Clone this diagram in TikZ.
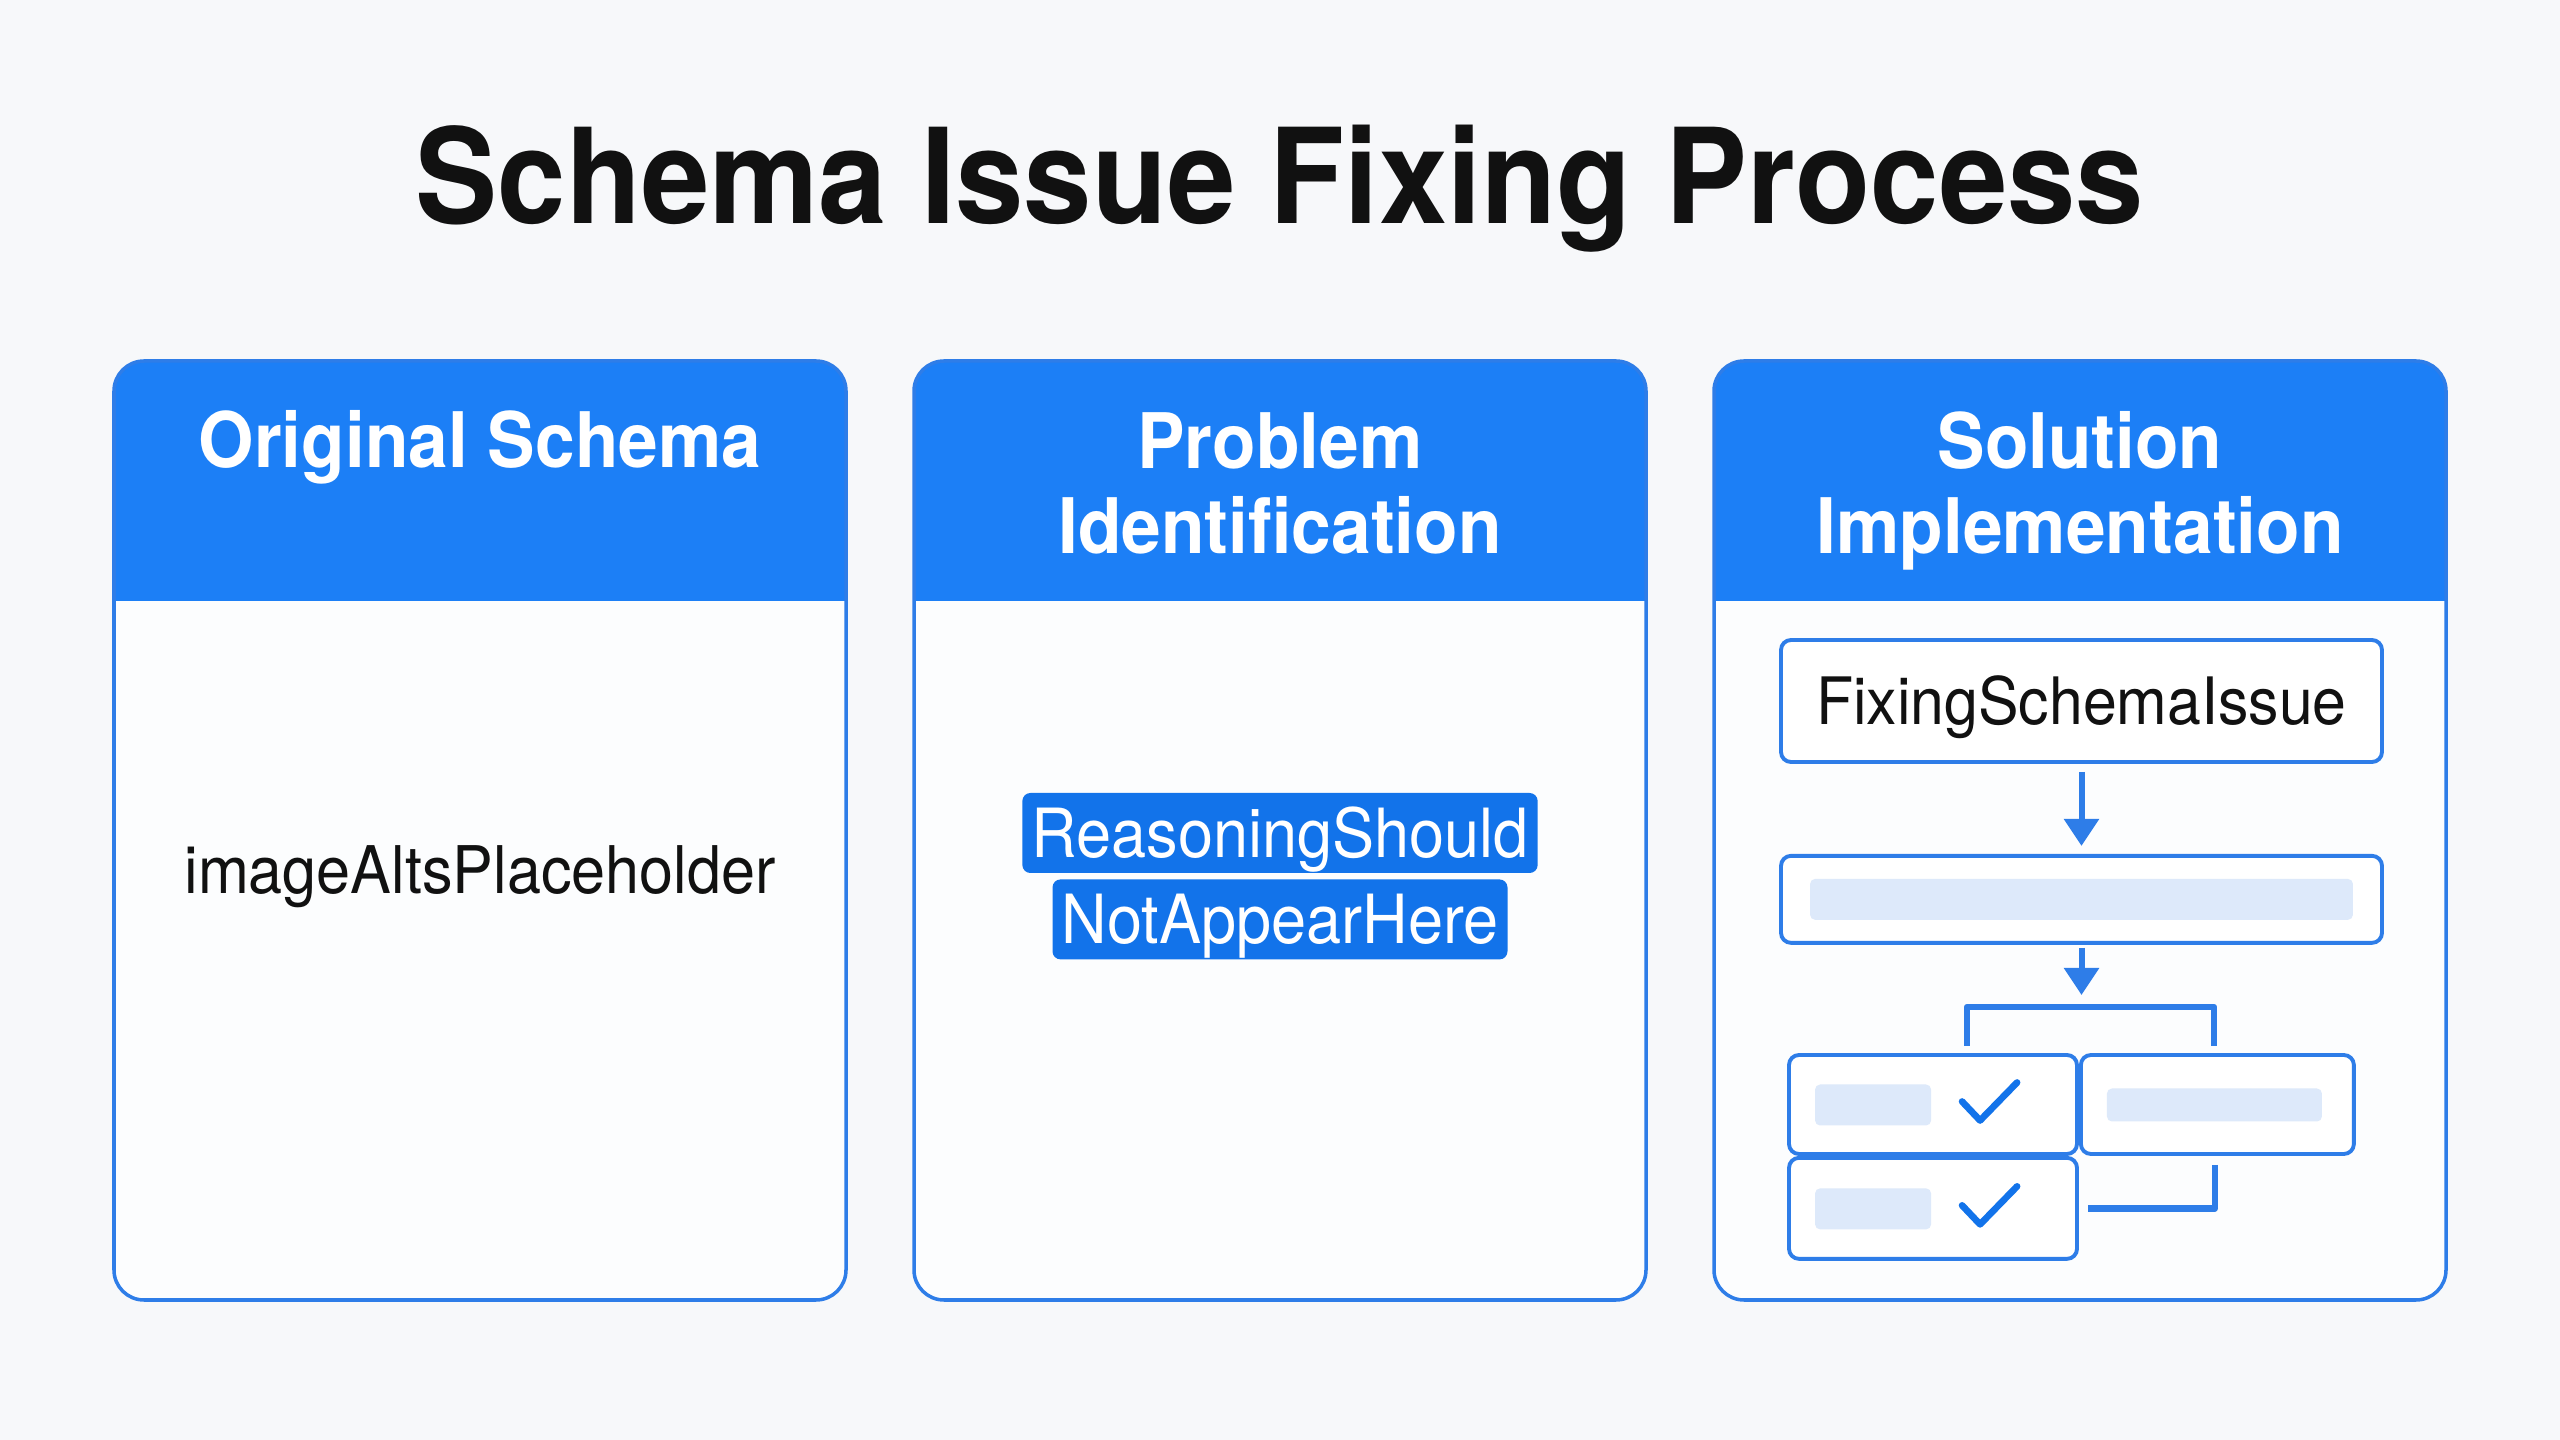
\documentclass[tikz,border=0pt]{standalone}
\usepackage{fontspec}
\setmainfont{TeX Gyre Heros}[FakeStretch=0.93]
\usetikzlibrary{arrows.meta,positioning}
\definecolor{Head}{HTML}{1C7FF6}
\definecolor{Edge}{HTML}{2E7DE8}
\definecolor{Mark}{HTML}{1273EA}
\definecolor{Bar}{HTML}{DDE9FA}
\definecolor{Paper}{HTML}{F7F8FA}
\definecolor{Card}{HTML}{FCFDFE}
\definecolor{Ink}{HTML}{111111}
\tikzset{
  card/.style={draw=Edge,line width=1pt,rounded corners=3mm},
  stepbox/.style={draw=Edge,line width=1.1pt,rounded corners=1mm,fill=white,inner sep=0pt},
  bar/.style={fill=Bar,rounded corners=0.5mm},
  flow/.style={Edge,line width=1.7pt,-{Triangle[length=2.7mm,width=3.4mm]}},
  link/.style={Edge,line width=1.8pt,line join=round},
  tick/.style={Mark,line width=1.9pt,line cap=round,line join=round},
  hilite/.style={fill=Mark,text=white,rounded corners=0.8mm,inner xsep=0.9mm,inner ysep=0pt,
    minimum height=8mm,text height=13.9pt,text depth=0pt,font=\fontsize{19.3}{22}\selectfont},
}

\begin{document}
\begin{tikzpicture}[x=0.1mm,y=-0.1mm]
  \fill[Paper] (0,0) rectangle (2560,1440);
  \useasboundingbox (0,0) rectangle (2560,1440);
  \node[font=\fontsize{37.6}{42}\selectfont\bfseries,Ink,anchor=base] (title) at (1280,224) {Schema Issue Fixing Process};
  \def\w{732}
  \foreach \x/\nm/\y/\ttl in {114/orig/468/{Original Schema},914/prob/554/{Problem\\Identification},1714/sol/554/{Solution\\Implementation}} {
    \fill[Card,rounded corners=3mm] (\x,361) rectangle ++(\w,939);
    \fill[Head,rounded corners=3mm] (\x,361) rectangle ++(\w,280);
    \fill[Card] (\x,601) rectangle ++(\w,100);
    \draw[card] (\x,361) rectangle ++(\w,939);
    \node[font=\fontsize{21.8}{24.2}\selectfont\bfseries,text=white,align=center,anchor=base] (\nm) at (\x+\w/2,\y) {\ttl};
  }
  \node[font=\fontsize{18.7}{21}\selectfont,Ink,anchor=base] (alts) at (480,894) {imageAltsPlaceholder};
  \node[hilite] (reason) at (1280,833) {ReasoningShould};
  \node[hilite,below=0.5mm of reason] (appear) {NotAppearHere};
  \node[stepbox,minimum width=60.1mm,minimum height=12.2mm,text height=13.4pt,text depth=0pt,
    font=\fontsize{18.6}{21}\selectfont,text=Ink] (fix) at (2081.5,701) {FixingSchemaIssue};
  \node[stepbox,minimum width=60.1mm,minimum height=8.7mm,below=9mm of fix] (mid) {};
  \fill[bar] ([shift={(31,25)}]mid.north west) rectangle ([shift={(-31,-25)}]mid.south east);
  \node[stepbox,minimum width=28.8mm,minimum height=9.9mm] (a) at (1933,1104.5) {};
  \node[stepbox,minimum width=27.3mm,minimum height=9.9mm,right=0mm of a] (b) {};
  \node[stepbox,minimum width=28.8mm,minimum height=10.1mm,below=0mm of a] (c) {};
  \foreach \n in {a,c} {
    \fill[bar] ([shift={(28,-20)}]\n.west) rectangle ++(116,41);
    \draw[tick] ([shift={(175,-3)}]\n.west) -- ++(18,19) -- ++(37,-38);
  }
  \fill[bar] ([shift={(28,-16)}]b.west) rectangle ++(215,33);
  \coordinate (fork) at (2081.5,1007);
  \coordinate (fl) at (1967,1046);
  \coordinate (fr) at (2214,1046);
  \draw[flow,shorten <=0.8mm,shorten >=0.8mm] (fix) -- (mid);
  \draw[flow,shorten <=0.3mm,shorten >=1.2mm] (mid) -- (fork);
  \draw[link] (fl) |- (fork) -| (fr);
  \draw[link] ([xshift=-0.25mm,yshift=-0.9mm]b.south) |- ([xshift=0.9mm]c.east);
\end{tikzpicture}
\end{document}
